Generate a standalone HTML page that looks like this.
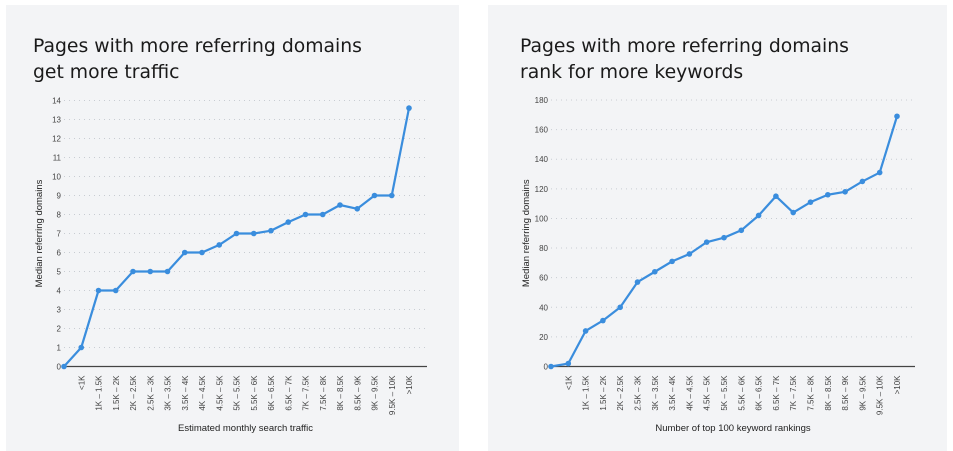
<!DOCTYPE html>
<html><head><meta charset="utf-8"><style>
body{margin:0;width:953px;height:451px;background:#fff;overflow:hidden;font-family:"Liberation Sans",sans-serif}
.panel{position:absolute;top:5px;height:446px;background:#f3f4f6}
svg{position:absolute;left:0;top:0}
</style></head><body>
<div class="panel" style="left:6px;width:453px"></div>
<div class="panel" style="left:488px;width:459px"></div>
<svg id="chart" width="953" height="451"></svg>
<script>
const labelsL = ["","<1K","1K – 1.5K","1.5K – 2K","2K – 2.5K","2.5K – 3K","3K – 3.5K","3.5K – 4K","4K – 4.5K","4.5K – 5K","5K – 5.5K","5.5K – 6K","6K – 6.5K","6.5K – 7K","7K – 7.5K","7.5K – 8K","8K – 8.5K","8.5K – 9K","9K – 9.5K","9.5K – 10K",">10K"];
const valuesTraffic = [0,1,4,4,5,5,5,6,6,6.4,7,7,7.15,7.6,8,8,8.5,8.3,9,9,13.6];
const valuesKeywords = [0,2,24,31,40,57,64,71,76,84,87,92,102,115,104,111,116,118,125,131,169];
const ticksL = [0,1,2,3,4,5,6,7,8,9,10,11,12,13,14];
const ticksR = [0,20,40,60,80,100,120,140,160,180];
const NS="http://www.w3.org/2000/svg";
const svg=document.getElementById('chart');
function mk(tag,attrs,parent){const e=document.createElementNS(NS,tag);for(const k in attrs)e.setAttribute(k,attrs[k]);(parent||svg).appendChild(e);return e;}
function draw(o){
  const g=mk('g',{});
  
  
  const y=v=>o.y0-(v/o.max)*(o.y0-o.yTop);
  const x=i=>o.x0+i*(o.x1-o.x0)/(o.labels.length-1);
  o.title.forEach((t,i)=>{const e=mk('text',{x:o.tx,y:52+i*26,'font-size':18.8,fill:'#1a1a1a','font-family':'DejaVu Sans, sans-serif'},g);e.textContent=t;
    });
  o.ticks.forEach(t=>{
    if(t>0){const l=mk('line',{x1:o.x0,x2:o.axEnd,y1:y(t),y2:y(t),stroke:'#c8ccd2','stroke-dasharray':'1 4','stroke-width':1},g);
      }
    const e=mk('text',{x:o.x0-3,y:y(t)+3,'font-size':8,fill:'#444','text-anchor':'end'},g);e.textContent=t;
    
  });
  const ax=mk('line',{x1:o.x0,x2:o.axEnd,y1:o.y0,y2:o.y0,stroke:'#444','stroke-width':1.2},g);
  
  o.labels.forEach((lb,i)=>{const e=mk('text',{transform:`translate(${x(i)+3},${o.y0+9}) rotate(-90)`,'font-size':8,fill:'#444','text-anchor':'end'},g);e.textContent=lb;
    });
  const yt=mk('text',{transform:`translate(${o.x0-22},${(o.y0+o.yTop)/2}) rotate(-90)`,'font-size':9.5,fill:'#222','text-anchor':'middle'},g);yt.textContent='Median referring domains';
  
  const xt=mk('text',{x:(o.x0+o.axEnd)/2,y:431,'font-size':9.5,fill:'#222','text-anchor':'middle'},g);xt.textContent=o.xTitle;
  
  const pts=o.values.map((v,i)=>x(i)+','+y(v)).join(' ');
  const pl=mk('polyline',{points:pts,fill:'none',stroke:'#3a8ddd','stroke-width':2.2,'stroke-linejoin':'round'},g);
  
  o.values.forEach((v,i)=>{const c=mk('circle',{cx:x(i),cy:y(v),r:2.8,fill:'#3a8ddd'},g);
    });
}
draw({name:'traffic-chart',title:['Pages with more referring domains','get more traffic'],tx:33,labels:labelsL,values:valuesTraffic,ticks:ticksL,max:14,x0:64,x1:409,axEnd:427,y0:366.5,yTop:100.5,xTitle:'Estimated monthly search traffic'});
draw({name:'keywords-chart',title:['Pages with more referring domains','rank for more keywords'],tx:520,labels:labelsL,values:valuesKeywords,ticks:ticksR,max:180,x0:551,x1:897,axEnd:915,y0:366.5,yTop:100,xTitle:'Number of top 100 keyword rankings'});
</script>
</body></html>
